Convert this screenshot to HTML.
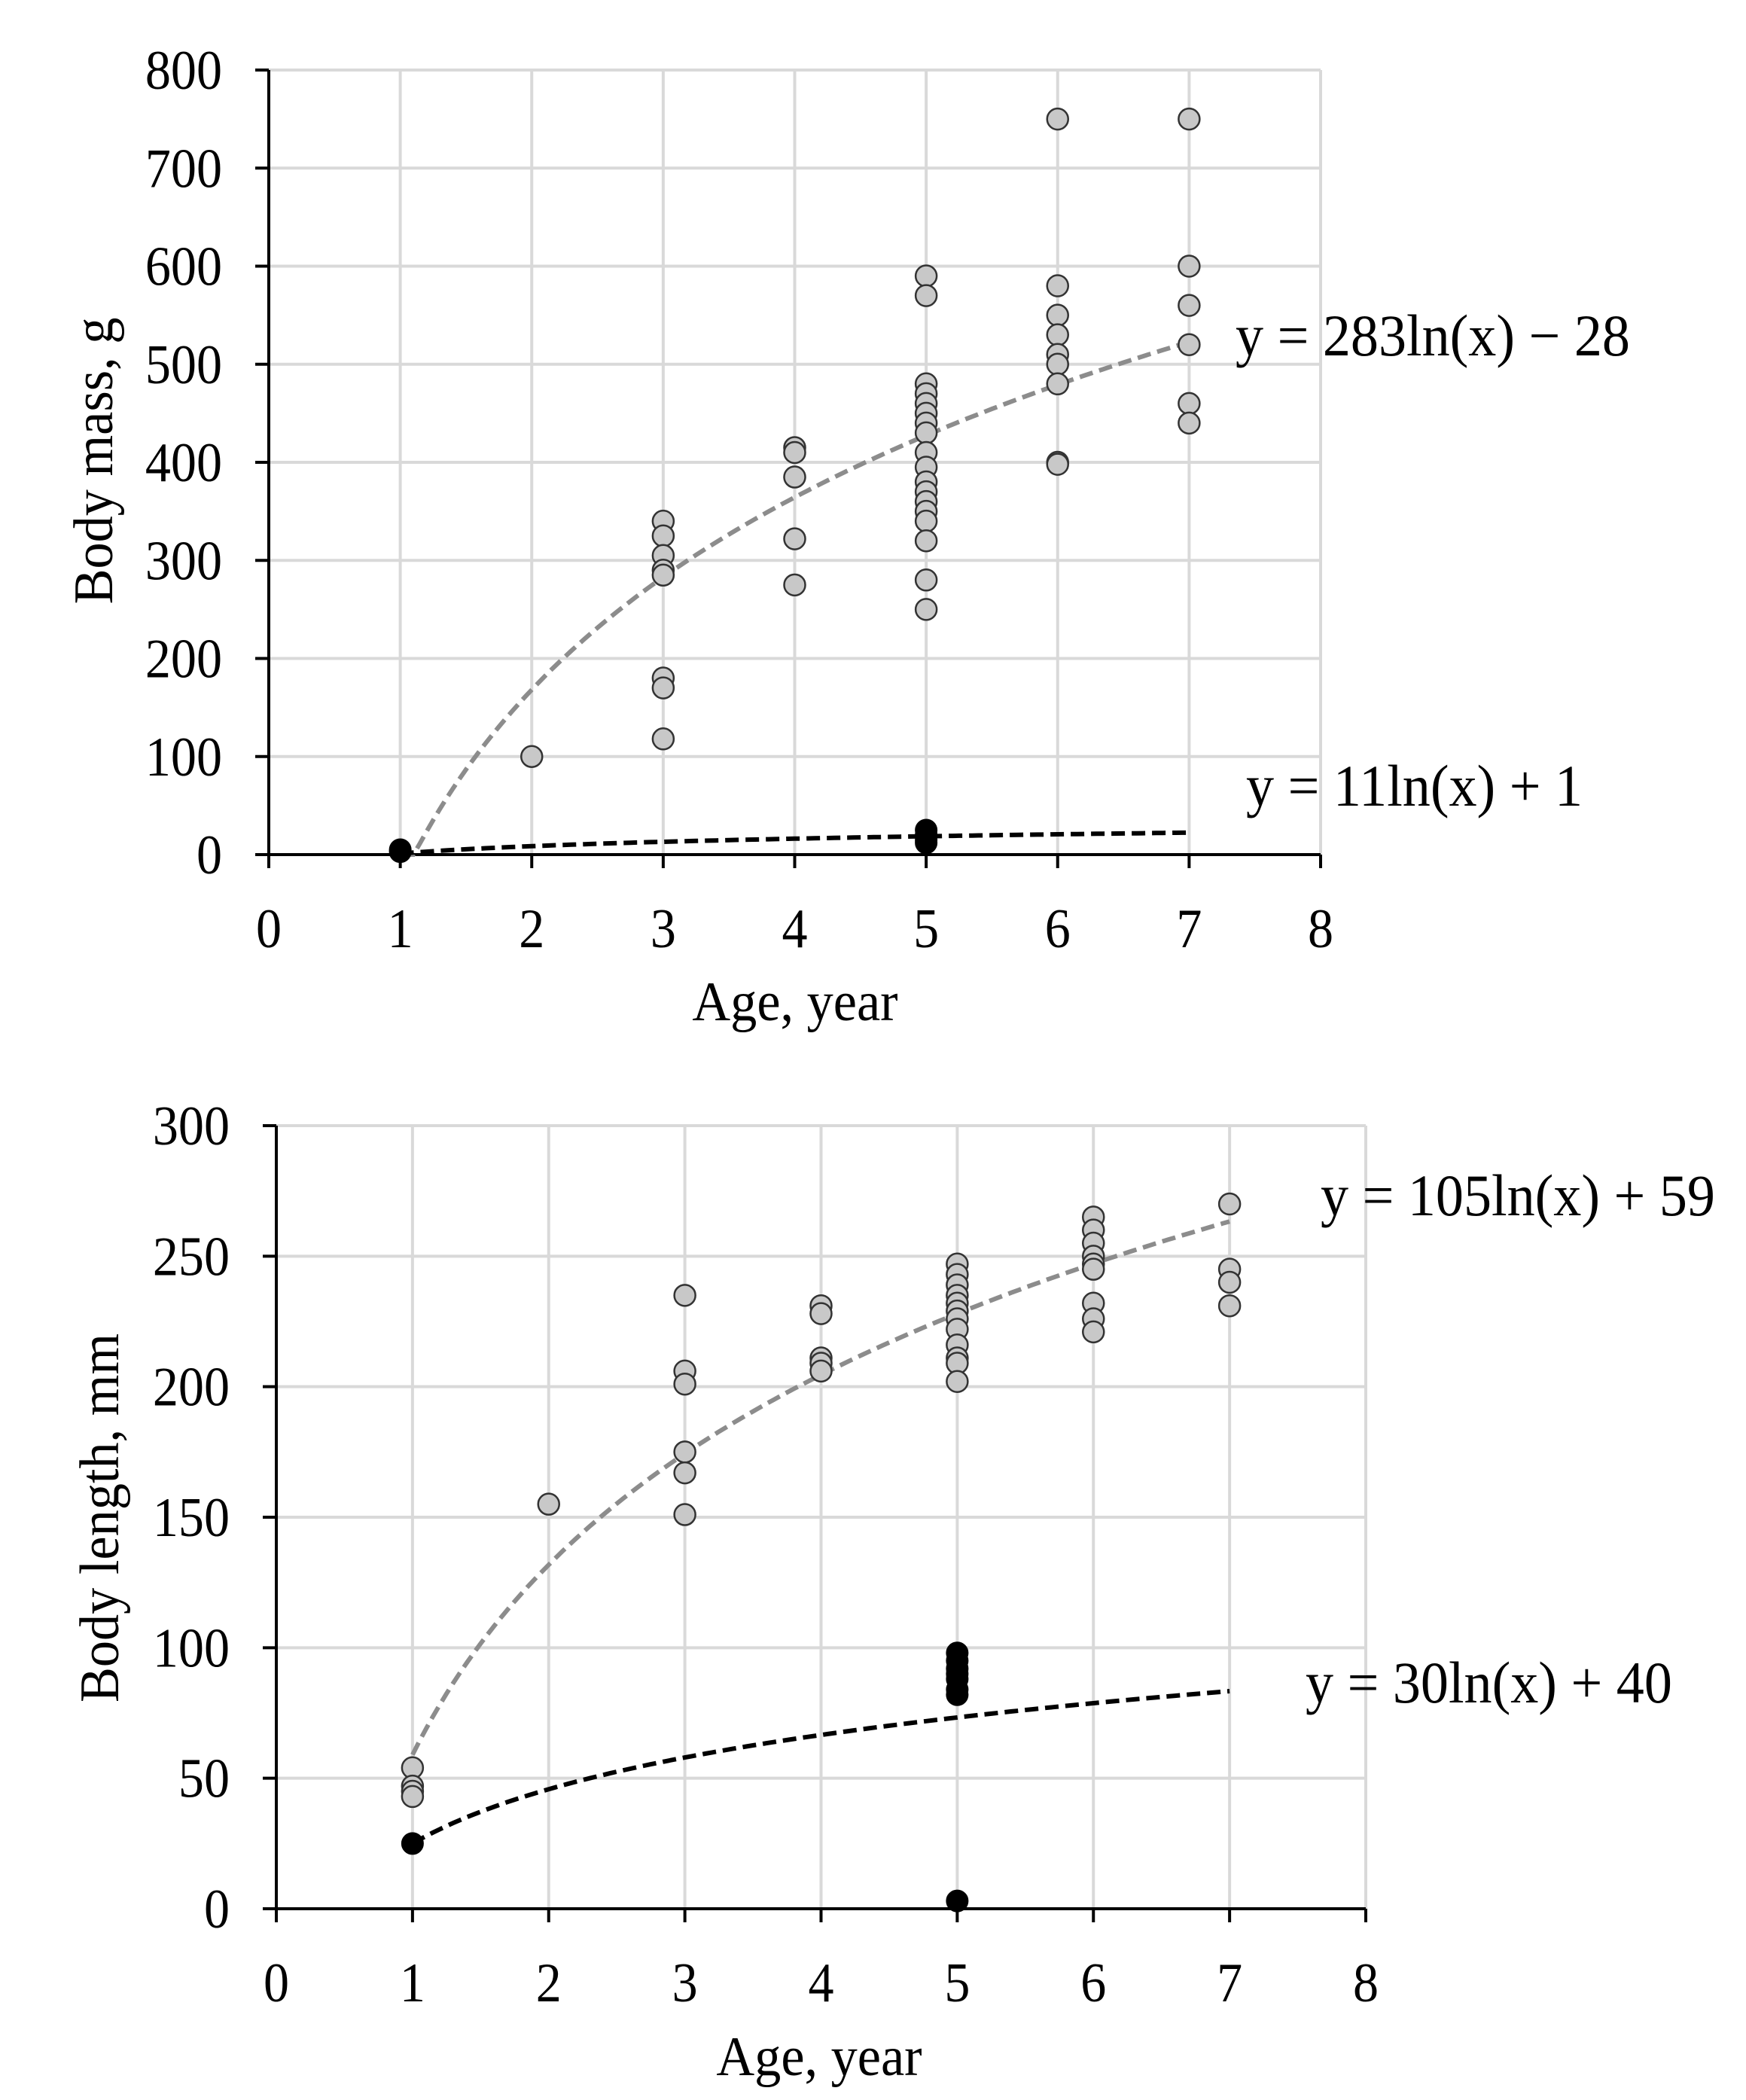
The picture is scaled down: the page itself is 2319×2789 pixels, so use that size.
<!DOCTYPE html>
<html><head><meta charset="utf-8"><style>
html,body{margin:0;padding:0;background:#fff;}
svg{display:block;font-family:"Liberation Serif",serif;}
</style></head><body>
<svg id="svg" width="2319" height="2789" viewBox="0 0 2319 2789" xmlns="http://www.w3.org/2000/svg"></svg>
<script>
const ageTicks=[0,1,2,3,4,5,6,7,8];
const massTicks=[0,100,200,300,400,500,600,700,800];
const lenTicks=[0,50,100,150,200,250,300];
const massGrayX=[2,3,3,3,3,3,3,3,3,4,4,4,4,4,5,5,5,5,5,5,5,5,5,5,5,5,5,5,5,5,5,5,6,6,6,6,6,6,6,6,6,7,7,7,7,7,7];
const massGrayY=[100,340,325,305,290,285,180,170,118,415,410,385,322,275,590,570,480,470,460,450,440,430,410,395,380,370,360,350,340,320,280,250,750,580,550,530,510,500,480,400,398,750,600,560,520,460,440];
const massBlackX=[1,1,5,5,5,5];
const massBlackY=[3,5,25,20,15,12];
const lenGrayX=[1,1,1,1,2,3,3,3,3,3,3,4,4,4,4,4,5,5,5,5,5,5,5,5,5,5,5,5,6,6,6,6,6,6,6,6,6,7,7,7,7];
const lenGrayY=[54,47,45,43,155,235,206,201,175,167,151,231,228,211,209,206,247,243,239,235,232,229,226,222,216,211,209,202,265,260,255,250,247,245,232,226,221,270,245,240,231];
const lenBlackX=[1,5,5,5,5,5,5,5,5];
const lenBlackY=[25,98,95,92,90,88,84,82,3];
const massFitA=[283,11], massFitB=[-28,1];
const lenFitA=[105,30], lenFitB=[59,25];

const NS="http://www.w3.org/2000/svg";
const svg=document.getElementById('svg');
function el(t,a,p){const e=document.createElementNS(NS,t);for(const k in a)e.setAttribute(k,a[k]);(p||svg).appendChild(e);return e;}
function txt(g,s,x,y,size,anchor,sx,rot){
  const t=el('text',{x:0,y:0,'text-anchor':anchor,'font-size':size,fill:'#000',
    transform:`translate(${x},${y})`+(rot?' rotate(-90)':'')+` scale(${sx},1)`},g);
  t.textContent=s;return t;
}

function chart(o){
  const g=el('g',{});
  
  
  const sx=v=>o.x0+(v-0)/8*(o.x1-o.x0);
  const sy=v=>o.y0-(v/o.ymax)*(o.y0-o.y1);
  o.yt.forEach(t=>{if(t===0)return;const l=el('line',{x1:o.x0,x2:o.x1,y1:sy(t),y2:sy(t),stroke:'#d9d9d9','stroke-width':4},g);
    });
  ageTicks.forEach(t=>{if(t===0)return;const l=el('line',{x1:sx(t),x2:sx(t),y1:o.y1,y2:o.y0,stroke:'#d9d9d9','stroke-width':4},g);
    });
  const ya=el('line',{x1:o.x0,x2:o.x0,y1:o.y1,y2:o.y0,stroke:'#000','stroke-width':4},g);
  
  const xa=el('line',{x1:o.x0-18,x2:o.x1,y1:o.y0,y2:o.y0,stroke:'#000','stroke-width':4},g);
  
  o.yt.forEach(t=>{el('line',{x1:o.x0-18,x2:o.x0,y1:sy(t),y2:sy(t),stroke:'#000','stroke-width':4},g);
    const tx=txt(g,String(t),o.x0-62,sy(t)+25,74,'end',0.92,false);
    });
  ageTicks.forEach(t=>{el('line',{x1:sx(t),x2:sx(t),y1:o.y0,y2:o.y0+18,stroke:'#000','stroke-width':4},g);
    const tx=txt(g,String(t),sx(t),o.y0+123,74,'middle',0.92,false);
    });
  [0,1].forEach(i=>{let d='';for(let x=1;x<=7.0001;x+=0.05){let y=o.fa[i]*Math.log(x)+o.fb[i];if(y<0)y=0;d+=(d?'L':'M')+sx(x).toFixed(1)+','+sy(y).toFixed(1);}
    const p=el('path',{d:d,fill:'none',stroke:i?'#000':'#8c8c8c','stroke-width':6,'stroke-dasharray':'18,9'},g);
    });
  o.gx.forEach((x,i)=>{const c=el('circle',{cx:sx(x),cy:sy(o.gy[i]),r:14,fill:'#c8c8c8',stroke:'#333','stroke-width':2.5},g);
    });
  o.bx.forEach((x,i)=>{const c=el('circle',{cx:sx(x),cy:sy(o.by[i]),r:14,fill:'#000',stroke:'#000','stroke-width':2},g);
    });
  const yt=txt(g,o.ytitle,o.ytx,o.yty,74,'middle',0.95,true);
  
  const xt=txt(g,'Age, year',o.xtx,o.xty,74,'middle',0.95,false);
  
  o.eq.forEach(e=>{const t=txt(g,e[0],e[1],e[2],78,'start',0.95,false);
    });
}
chart({name:'body-mass-chart',x0:357,x1:1754,y0:1135,y1:93,ymax:800,yt:massTicks,gx:massGrayX,gy:massGrayY,bx:massBlackX,by:massBlackY,fa:massFitA,fb:massFitB,
  ytitle:'Body mass, g',ytx:149,yty:612,xtx:1056,xty:1355,eq:[['y = 283ln(x) − 28',1641,472],['y = 11ln(x) + 1',1655,1070]]});
chart({name:'body-length-chart',x0:367,x1:1814,y0:2535,y1:1495,ymax:300,yt:lenTicks,gx:lenGrayX,gy:lenGrayY,bx:lenBlackX,by:lenBlackY,fa:lenFitA,fb:lenFitB,
  ytitle:'Body length, mm',ytx:157,yty:2016,xtx:1088,xty:2756,eq:[['y = 105ln(x) + 59',1754,1614],['y = 30ln(x) + 40',1734,2261]]});
</script>
</body></html>
